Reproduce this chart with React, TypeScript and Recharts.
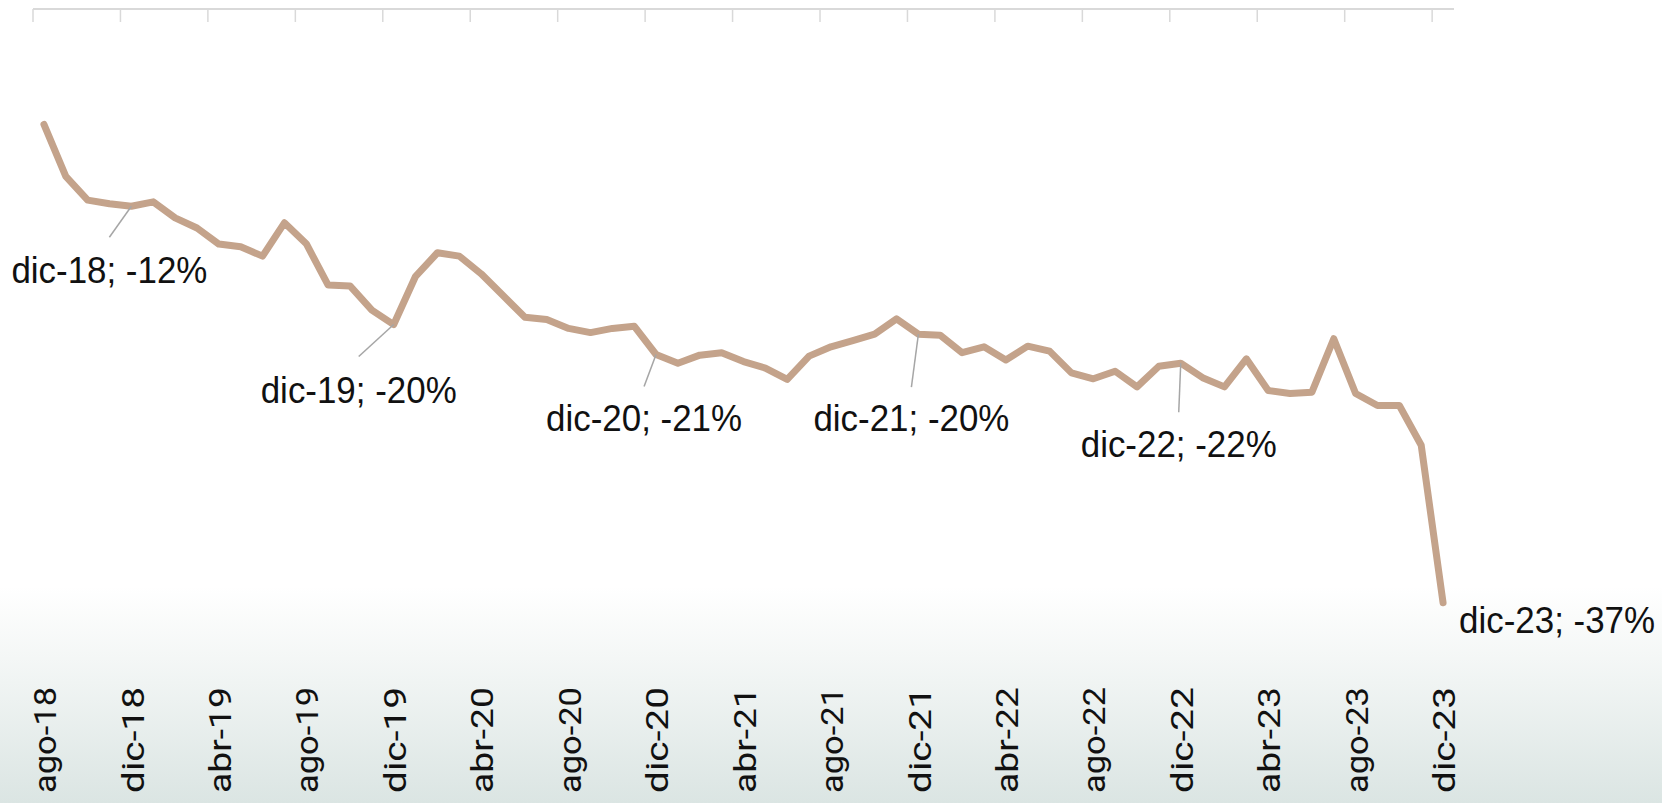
import { LineChart, Line, XAxis, YAxis, LabelList } from 'recharts';

const months = [
  'ago-18', 'sep-18', 'oct-18', 'nov-18', 'dic-18',
  'ene-19', 'feb-19', 'mar-19', 'abr-19', 'may-19', 'jun-19', 'jul-19', 'ago-19', 'sep-19', 'oct-19', 'nov-19', 'dic-19',
  'ene-20', 'feb-20', 'mar-20', 'abr-20', 'may-20', 'jun-20', 'jul-20', 'ago-20', 'sep-20', 'oct-20', 'nov-20', 'dic-20',
  'ene-21', 'feb-21', 'mar-21', 'abr-21', 'may-21', 'jun-21', 'jul-21', 'ago-21', 'sep-21', 'oct-21', 'nov-21', 'dic-21',
  'ene-22', 'feb-22', 'mar-22', 'abr-22', 'may-22', 'jun-22', 'jul-22', 'ago-22', 'sep-22', 'oct-22', 'nov-22', 'dic-22',
  'ene-23', 'feb-23', 'mar-23', 'abr-23', 'may-23', 'jun-23', 'jul-23', 'ago-23', 'sep-23', 'oct-23', 'nov-23', 'dic-23',
];

// variación (%) por mes
const values = [
  -7.17, -10.39, -11.87, -12.1, -12.25,
  -11.98, -12.97, -13.6, -14.6, -14.77, -15.35, -13.28, -14.58, -17.15, -17.2, -18.7, -19.6,
  -16.6, -15.14, -15.35, -16.45, -17.8, -19.14, -19.29, -19.84, -20.1, -19.84, -19.7, -21.46,
  -22.0, -21.5, -21.35, -21.9, -22.3, -23.0, -21.56, -20.98, -20.6, -20.2, -19.25, -20.2,
  -20.26, -21.35, -20.98, -21.8, -20.94, -21.25, -22.6, -22.97, -22.5, -23.47, -22.19, -22.0,
  -22.9, -23.47, -21.73, -23.7, -23.88, -23.8, -20.48, -23.88, -24.63, -24.63, -27.1, -36.88,
];

const labelTicks = [0, 4, 8, 12, 16, 20, 24, 28, 32, 36, 40, 44, 48, 52, 56, 60, 64];
const boundaryTicks = [-0.5, 3.5, 7.5, 11.5, 15.5, 19.5, 23.5, 27.5, 31.5, 35.5, 39.5, 43.5, 47.5, 51.5, 55.5, 59.5, 63.5];
const annotated = ['dic-18', 'dic-19', 'dic-20', 'dic-21', 'dic-22', 'dic-23'];

const data = months.map((m, i) => ({ idx: i, month: m, value: values[i] }));

// offsets of leader line end / text relative to the point
const labelPos: Record<string, { lx: number; ly: number; tx: number; ty: number; anchor: string; leader: boolean }> = {
  'dic-18': { lx: -22, ly: 31, tx: -22, ty: 77, anchor: 'middle', leader: true },
  'dic-19': { lx: -35, ly: 32, tx: -35, ty: 78, anchor: 'middle', leader: true },
  'dic-20': { lx: -12, ly: 32, tx: -12, ty: 76, anchor: 'middle', leader: true },
  'dic-21': { lx: -7, ly: 53, tx: -7, ty: 97, anchor: 'middle', leader: true },
  'dic-22': { lx: -2, ly: 49, tx: -2, ty: 94, anchor: 'middle', leader: true },
  'dic-23': { lx: 0, ly: 0, tx: 16, ty: 30, anchor: 'start', leader: false },
};

const annotationFont = '"Liberation Sans", Arial, sans-serif';
const axisFont = 'Roboto, "DejaVu Sans", sans-serif';

function Annotation(props: any) {
  const { index, value } = props;
  const x = props.x ?? props.viewBox?.x;
  const y = props.y ?? props.viewBox?.y;
  const m = months[index];
  if (!annotated.includes(m) || x == null || y == null) return null;
  const p = labelPos[m];
  return (
    <g>
      {p.leader && (
        <line x1={x} y1={y} x2={x + p.lx} y2={y + p.ly} stroke="#a6a6a6" strokeWidth={1.5} />
      )}
      <text
        x={x + p.tx}
        y={y + p.ty}
        textAnchor={p.anchor as any}
        fontFamily={annotationFont}
        fontSize={36}
        textLength={196}
        lengthAdjust="spacingAndGlyphs"
        fill="#111"
      >
        {`${m}; ${Math.round(value)}%`}
      </text>
    </g>
  );
}

function TopTick(props: any) {
  const { x, y } = props;
  return <line x1={x} x2={x} y1={y} y2={y + 13} stroke="#d9d9d9" strokeWidth={1.5} />;
}

function MonthTick(props: any) {
  const { x, y, payload } = props;
  const ty = y + 34;
  return (
    <text
      x={x}
      y={ty}
      transform={`rotate(-90, ${x}, ${ty})`}
      textAnchor="end"
      dy="0.38em"
      fontFamily={axisFont}
      fontSize={32}
      textLength={106}
      lengthAdjust="spacingAndGlyphs"
      fill="#111"
    >
      {months[payload.value]}
    </text>
  );
}

export default function App() {
  return (
    <div
      style={{
        position: 'absolute',
        left: 0,
        top: 0,
        width: 1662,
        height: 803,
        background: 'linear-gradient(to bottom, #ffffff 0%, #ffffff 73%, #f4f7f6 82%, #dbe5e3 100%)',
      }}
    >
      <LineChart width={1662} height={803} data={data} margin={{ top: 0, right: 208, bottom: 0, left: 33 }}>
        <XAxis
          xAxisId="top"
          orientation="top"
          type="number"
          dataKey="idx"
          domain={[-0.5, 64.5]}
          ticks={boundaryTicks}
          height={9}
          tickSize={0}
          tickMargin={0}
          tickLine={false}
          axisLine={{ stroke: '#d9d9d9', strokeWidth: 2 }}
          tick={<TopTick />}
          interval={0}
          allowDataOverflow
        />
        <XAxis
          type="number"
          dataKey="idx"
          domain={[-0.5, 64.5]}
          ticks={labelTicks}
          height={150}
          tickSize={0}
          tickMargin={0}
          tickLine={false}
          axisLine={false}
          tick={<MonthTick />}
          interval={0}
          allowDataOverflow
        />
        <YAxis hide domain={[-40, 0]} />
        <Line
          type="linear"
          dataKey="value"
          stroke="#c4a38b"
          strokeWidth={7}
          strokeLinecap="round"
          strokeLinejoin="round"
          dot={false}
          activeDot={false}
          isAnimationActive={false}
        >
          <LabelList dataKey="value" content={<Annotation />} />
        </Line>
      </LineChart>
    </div>
  );
}
